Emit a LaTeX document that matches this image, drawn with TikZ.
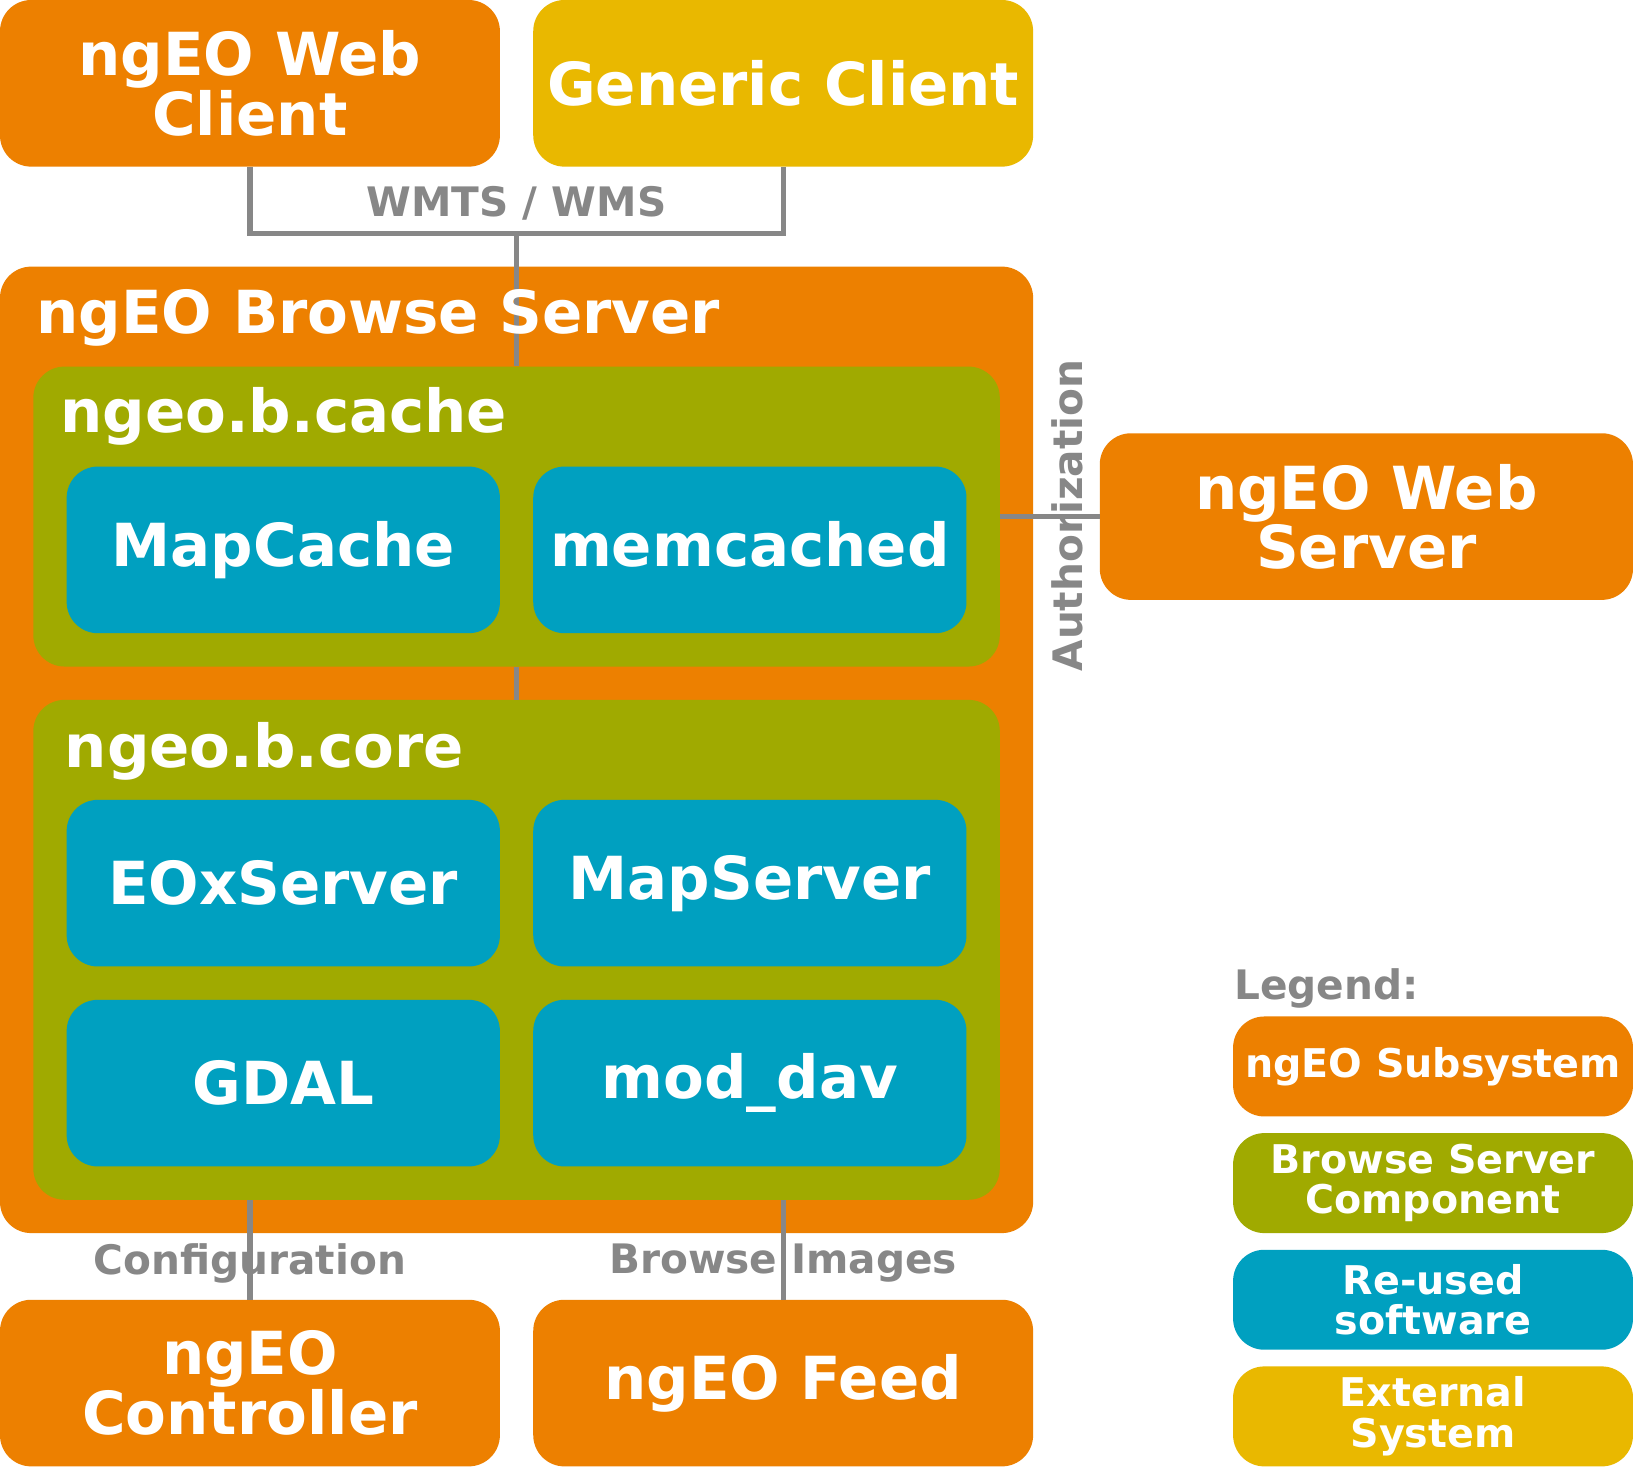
\documentclass[tikz,border=0pt]{standalone}
\usepackage{fontspec}
\setmainfont{DejaVu Sans}
\definecolor{ngeoorange}{RGB}{237,128,0}
\definecolor{ngeoyellow}{RGB}{233,184,0}
\definecolor{ngeogreen}{RGB}{160,170,0}
\definecolor{ngeoblue}{RGB}{0,160,192}
\definecolor{ngeogray}{RGB}{135,135,135}
\tikzset{
  box/.style={rounded corners=30pt, inner sep=0pt, text=white, align=center,
    font=\bfseries\fontsize{57}{57}\selectfont},
  subsystem/.style={box, fill=ngeoorange},
  external/.style={box, fill=ngeoyellow},
  component/.style={box, fill=ngeogreen},
  reused/.style={box, fill=ngeoblue, minimum width=416pt, minimum height=160pt},
  big/.style={minimum width=480pt, minimum height=160pt},
  title/.style={anchor=base west, inner sep=0pt, text=white,
    font=\bfseries\fontsize{57}{57}\selectfont},
  link/.style={draw=ngeogray, line width=5pt},
  linklabel/.style={inner sep=0pt, text=ngeogray,
    font=\bfseries\fontsize{39}{39}\selectfont},
  legendbox/.style={minimum width=384pt, minimum height=96pt,
    font=\bfseries\fontsize{38}{39}\selectfont}
}
\begin{document}
\begin{tikzpicture}[x=1pt,y=-1pt]
	\fill[white] (0,0) rectangle (1568,1408);
	\useasboundingbox (0,0) rectangle (1568,1408);

	\node[subsystem, big] (webclient) at (240,80) {ngEO Web\\Client};
	\node[external, big] (generic) at (752,80) {Generic Client};

	\node[subsystem, minimum width=992pt, minimum height=928pt] (browse) at (496,720) {};
	\node[component, minimum width=928pt, minimum height=288pt] (cache) at (496,496) {};
	\node[component, minimum width=928pt, minimum height=480pt] (core) at (496,912) {};

	\node[reused] (mapcache) at (272,528) {MapCache};
	\node[reused] (memcached) at (720,528) {memcached\vphantom{p}};
	\node[reused] (eoxserver) at (272,848) {EOxServer};
	\node[reused] (mapserver) at (720,848) {MapServer};
	\node[reused] (gdal) at (272,1040) {GDAL};
	\node[reused] (moddav) at (720,1040) {mod\_dav};

	\node[subsystem, minimum width=512pt, minimum height=160pt] (webserver) at (1312,496) {ngEO Web\\Server};
	\node[subsystem, big] (controller) at (240,1328) {ngEO\\Controller};
	\node[subsystem, big] (feed) at (752,1328) {ngEO Feed};

	% connectors
	\coordinate (wms) at (496,224);
	\draw[link] (webclient.south) |- (wms) -| (generic.south);
	\draw[link] (wms) -- (cache.north);
	\draw[link] (cache.south) -- (core.north);
	\draw[link] (cache.east) -- (webserver.west);
	\draw[link] (controller.north) -- (controller.north |- core.south);
	\draw[link] (feed.north) -- (feed.north |- core.south);

	\node[linklabel] (wmslabel) at (496,195) {WMTS / WMS};
	\node[linklabel, rotate=90] (authlabel) at (1025,495) {Authorization};
	\node[linklabel] (conflabel) at (240,1213) {Configuration};
	\node[linklabel] (feedlabel) at (752,1213) {Browse Images};

	\node[title] (browsetitle) at (35,320) {ngEO Browse Server};
	\node[title] (cachetitle) at (58,415) {ngeo.b.cache};
	\node[title] (coretitle) at (62,737) {ngeo.b.core};

	% legend
	\node[linklabel, anchor=base west] (legend) at (1185,960) {Legend:};
	\node[subsystem, legendbox] (lsub) at (1376,1024) {ngEO Subsystem};
	\node[component, legendbox] (lcomp) at (1376,1136) {Browse Server\\Component};
	\node[reused, legendbox] (lreused) at (1376,1248) {Re-used\\software};
	\node[external, legendbox] (lext) at (1376,1360) {External\\System};
\end{tikzpicture}
\end{document}
